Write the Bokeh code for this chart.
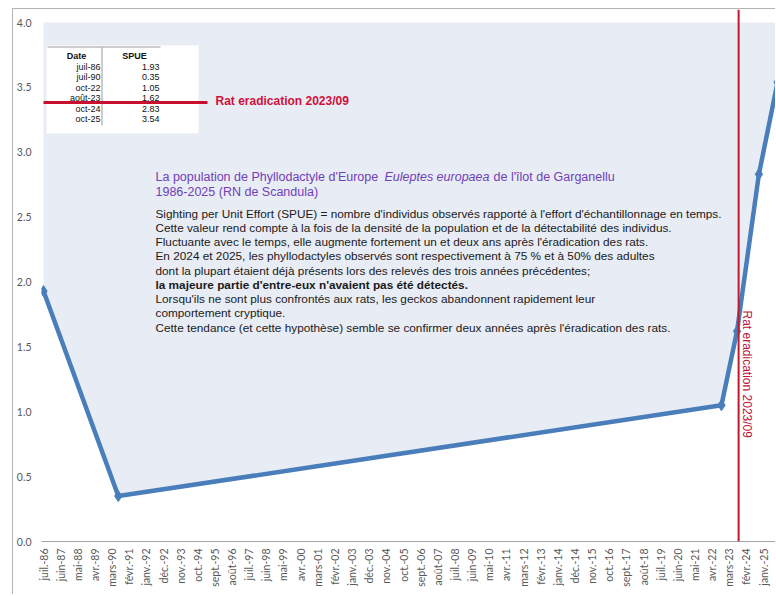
import math
import pandas as pd
from bokeh.plotting import figure
from bokeh.models import (Range1d, FixedTicker, Span, Label)
from bokeh.embed import file_html
from bokeh.resources import INLINE

# ---------------- data ----------------
survey_dates = ["juil-86", "juil-90", "oct-22", "août-23", "oct-24", "oct-25"]
spue = [1.93, 0.35, 1.05, 1.62, 2.83, 3.54]

tick_labels = ["juil.-86", "juin-87", "mai-88", "avr.-89", "mars-90", "févr.-91", "janv.-92",
               "déc.-92", "nov.-93", "oct.-94", "sept.-95", "août-96", "juil.-97", "juin-98",
               "mai-99", "avr.-00", "mars-01", "févr.-02", "janv.-03", "déc.-03", "nov.-04",
               "oct.-05", "sept.-06", "août-07", "juil.-08", "juin-09", "mai-10", "avr.-11",
               "mars-12", "févr.-13", "janv.-14", "déc.-14", "nov.-15", "oct.-16", "sept.-17",
               "août-18", "juil.-19", "juin-20", "mai-21", "avr.-22", "mars-23", "févr.-24",
               "janv.-25"]
y_ticks = [0.0, 0.5, 1.0, 1.5, 2.0, 2.5, 3.0, 3.5, 4.0]
eradication_date = "2023-09-01"
eradication_label = "Rat eradication 2023/09"

title_parts = ["La population de Phyllodactyle d'Europe ", "Euleptes europaea", " de l'îlot de Garganellu"]
title_line2 = "1986-2025 (RN de Scandula)"
body_lines = [
    "Sighting per Unit Effort (SPUE) = nombre d'individus observés rapporté à l'effort d'échantillonnage en temps.",
    "Cette valeur rend compte à la fois de la densité de la population et de la détectabilité des individus.",
    "Fluctuante  avec le temps, elle augmente fortement un et deux ans après l'éradication des rats.",
    "En 2024 et 2025, les phyllodactyles observés sont respectivement à 75 % et à 50% des adultes",
    "dont la plupart étaient déjà présents lors  des relevés des trois années précédentes;",
    "la majeure partie d'entre-eux n'avaient pas été détectés.",
    "Lorsqu'ils ne sont plus confrontés aux rats, les geckos abandonnent rapidement leur",
    "comportement cryptique.",
    "Cette tendance (et cette hypothèse) semble se confirmer deux années après l'éradication des rats.",
]
bold_line_index = 5

# ---------------- helpers ----------------
MONTHS = {"janv": 1, "févr": 2, "mars": 3, "avr": 4, "mai": 5, "juin": 6, "juil": 7,
          "août": 8, "sept": 9, "oct": 10, "nov": 11, "déc": 12}


def parse_fr(lbl):
    m, y = lbl.rsplit("-", 1)
    m = m.rstrip(".")
    yy = int(y)
    yy = 2000 + yy if yy < 50 else 1900 + yy
    return pd.Timestamp(year=yy, month=MONTHS[m], day=1)


def ms(ts):
    return ts.value / 1e6


x_data = [ms(parse_fr(d)) for d in survey_dates]
tick_ms = [ms(parse_fr(t)) for t in tick_labels]

# layout constants (image pixel geometry)
FL, FR, FB, FT = 41.0, 776.0, 541.0, 9.0
PX_PER_UNIT = 129.75
month_ms = 30.4375 * 24 * 3600 * 1000
px_per_month = (763 - 43) / 462.0
x0 = tick_ms[0] - (43 - FL) / px_per_month * month_ms
x1 = x0 + (FR - FL) / px_per_month * month_ms
y1 = (FB - FT) / PX_PER_UNIT


def dx(ix):
    return x0 + (ix - FL) / (FR - FL) * (x1 - x0)


def dy(iy):
    return (FB - iy) / PX_PER_UNIT


# ---------------- figure ----------------
p = figure(width=763, height=586, output_backend="svg", toolbar_location=None,
           x_axis_type="datetime", x_range=Range1d(x0, x1), y_range=Range1d(0, y1),
           min_border_left=28, min_border_right=0, min_border_top=0, min_border_bottom=54)
p.margin = (8, 0, 0, 12)
p.styles = {"border-left": "1px solid #b4b4b4", "border-top": "1px solid #b4b4b4"}
p.outline_line_color = None
p.background_fill_color = "white"
p.border_fill_color = "white"
p.xgrid.visible = False
p.ygrid.visible = False

# area above the curve
p.varea(x=x_data, y1=spue, y2=max(y_ticks), fill_color="#e8ecf5")

# axes
p.yaxis.ticker = FixedTicker(ticks=y_ticks)
p.yaxis.major_label_overrides = {t: f"{t:.1f}" for t in y_ticks}
p.yaxis.axis_line_color = None
p.yaxis.major_tick_line_color = None
p.yaxis.major_tick_out = 0
p.yaxis.major_tick_in = 0
p.yaxis.minor_tick_line_color = None
p.yaxis.major_label_standoff = 10
p.yaxis.major_label_text_font = "Lato"
p.yaxis.major_label_text_font_size = "10.5px"
p.yaxis.major_label_text_color = "#595959"

p.xaxis.ticker = FixedTicker(ticks=tick_ms)
p.xaxis.major_label_overrides = {t: l for t, l in zip(tick_ms, tick_labels)}
p.xaxis.major_label_orientation = math.pi / 2
p.xaxis.axis_line_color = "#a6a6a6"
p.xaxis.major_tick_line_color = None
p.xaxis.major_tick_out = 0
p.xaxis.major_tick_in = 0
p.xaxis.minor_tick_line_color = None
p.xaxis.major_label_standoff = 7
p.xaxis.major_label_text_font = "Lato"
p.xaxis.major_label_text_font_size = "10.5px"
p.xaxis.major_label_text_color = "#595959"

# table inset (white panel, rules, texts)
p.quad(left=[dx(46)], right=[dx(198)], top=[dy(45)], bottom=[dy(133)],
       fill_color="white", line_color=None)
p.segment(x0=[dx(47)], y0=[dy(46.5)], x1=[dx(160)], y1=[dy(46.5)], line_color="#9a9a9a", line_width=1)
p.segment(x0=[dx(101.5)], y0=[dy(47)], x1=[dx(101.5)], y1=[dy(125)], line_color="#9a9a9a", line_width=1)
p.add_layout(Label(x=dx(76), y=dy(55), text="Date", text_font="Liberation Sans", text_font_style="bold",
                   text_font_size="9px", text_align="center", text_baseline="middle", text_color="#111"))
p.add_layout(Label(x=dx(134), y=dy(55), text="SPUE", text_font="Liberation Sans", text_font_style="bold",
                   text_font_size="9px", text_align="center", text_baseline="middle", text_color="#111"))
row_y = [66, 76.5, 87, 97.5, 108, 118.5]
for d, v, ry in zip(survey_dates, spue, row_y):
    p.add_layout(Label(x=dx(100), y=dy(ry), text=d, text_font="Liberation Sans", text_font_size="9px",
                       text_align="right", text_baseline="middle", text_color="#111"))
    p.add_layout(Label(x=dx(159), y=dy(ry), text=f"{v:.2f}", text_font="Liberation Sans", text_font_size="9px",
                       text_align="right", text_baseline="middle", text_color="#111"))

# horizontal red marker across the table
p.segment(x0=[dx(43)], y0=[dy(102)], x1=[dx(207)], y1=[dy(102)], line_color="#c8102e", line_width=3,
          level="overlay")
p.add_layout(Label(x=dx(215), y=dy(100), text=eradication_label, text_font="Liberation Sans",
                   text_font_style="bold", text_font_size="12px", text_align="left",
                   text_baseline="middle", text_color="#d0103a"))

# data line
p.line(x_data, spue, line_color="#4a7ebb", line_width=4.5)
p.scatter(x_data, spue, marker="diamond", size=11, fill_color="#4a7ebb", line_color="#4a7ebb")

# eradication vertical line
erad_ms = ms(pd.Timestamp(eradication_date))
p.add_layout(Span(location=erad_ms, dimension="height", line_color="#c0182c", line_width=2))
p.add_layout(Label(x=erad_ms, y=dy(310), x_offset=8, text=eradication_label, angle=-math.pi / 2,
                   text_font="Liberation Sans", text_font_size="12px", text_align="left",
                   text_baseline="middle", text_color="#c0103a"))

# descriptive text
TITLE_C = "#7040b8"
TS = "12.5px"
p.add_layout(Label(x=dx(155), y=dy(176), text=title_parts[0], text_font="Liberation Sans",
                   text_font_size=TS, text_baseline="middle", text_color=TITLE_C))
p.add_layout(Label(x=dx(384), y=dy(176), text=title_parts[1], text_font="Liberation Sans",
                   text_font_style="italic", text_font_size=TS, text_baseline="middle", text_color=TITLE_C))
p.add_layout(Label(x=dx(493), y=dy(176), text=title_parts[2], text_font="Liberation Sans",
                   text_font_size=TS, text_baseline="middle", text_color=TITLE_C))
p.add_layout(Label(x=dx(155), y=dy(191), text=title_line2, text_font="Liberation Sans",
                   text_font_size=TS, text_baseline="middle", text_color=TITLE_C))
body_y = [213, 227, 241, 255.5, 270, 284, 298, 312.5, 327]
for i, (t, by) in enumerate(zip(body_lines, body_y)):
    p.add_layout(Label(x=dx(155), y=dy(by), text=t, text_font="Liberation Sans",
                       text_font_style="bold" if i == bold_line_index else "normal",
                       text_font_size="11.8px", text_baseline="middle", text_color="#1a1a1a"))

open("out.html", "w").write(file_html(p, INLINE))
